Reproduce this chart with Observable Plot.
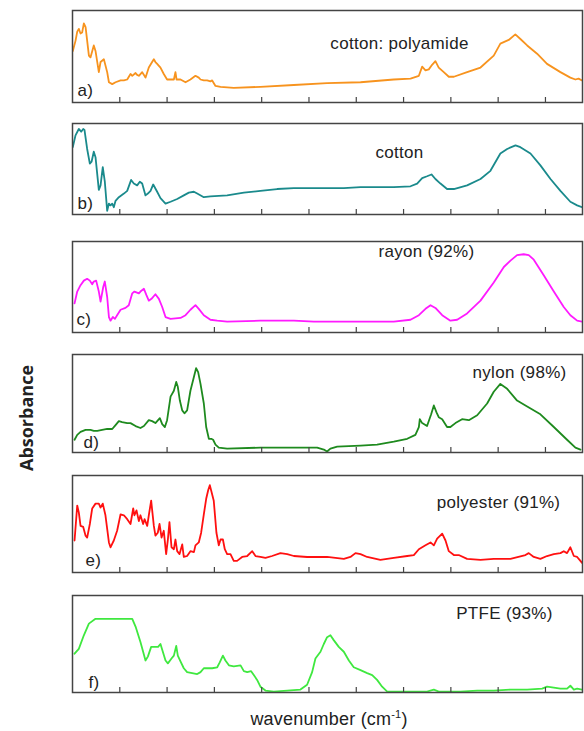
<!DOCTYPE html>
<html>
<head>
<meta charset="utf-8">
<script src="https://cdn.jsdelivr.net/npm/d3@7"></script>
<script src="https://cdn.jsdelivr.net/npm/@observablehq/plot@0.6"></script>
<style>
  html, body { margin: 0; padding: 0; background: #fff; }
  #chart { position: relative; width: 584px; height: 731px; font-family: "Liberation Sans", Arial, sans-serif; }
  .panel { position: absolute; left: 0; }
  #ylab { position: absolute; left: 26px; top: 418px; transform: translate(-50%, -50%) rotate(-90deg); font-family: "Open Sans", sans-serif; font-weight: 700; font-size: 18px; color: #222; white-space: nowrap; }
  #xlab { position: absolute; left: 329px; top: 719px; transform: translate(-50%, -50%); font-size: 18px; letter-spacing: 0.2px; color: #222; white-space: nowrap; }
  #xlab sup { font-size: 11px; }
</style>
</head>
<body>
<div id="chart"></div>
<script>
// ---- data: wavenumber (cm^-1) and relative absorbance (0-100) ----
const names = ["cotton: polyamide", "cotton", "rayon (92%)", "nylon (98%)", "polyester (91%)", "PTFE (93%)"];
const letters = ["a)", "b)", "c)", "d)", "e)", "f)"];
const tickValues = [900, 1200, 1500, 1800, 2100, 2400, 2700, 3000, 3300, 3600];

const cottonPolyamide = [[602,56],[619,67],[630,77],[640,80],[651,75],[661,76],[672,86],[683,82],[704,51],[714,49],[735,62],[746,56],[767,33],[778,44],[799,47],[820,33],[831,22],[852,20],[873,22],[905,24],[926,24],[947,25],[968,31],[979,29],[1000,32],[1010,30],[1021,29],[1042,33],[1053,30],[1063,27],[1084,38],[1105,44],[1116,47],[1126,44],[1137,42],[1158,38],[1179,31],[1200,25],[1222,25],[1243,25],[1253,33],[1260,25],[1285,25],[1317,22],[1348,25],[1380,29],[1401,27],[1412,25],[1433,24],[1454,24],[1475,23],[1486,24],[1507,18],[1539,17],[1623,16],[1792,17],[2004,19],[2215,21],[2427,22],[2638,25],[2744,26],[2797,29],[2818,39],[2839,35],[2860,36],[2881,41],[2902,45],[2923,38],[2955,33],[2987,28],[3019,28],[3103,33],[3188,38],[3272,51],[3314,64],[3367,68],[3409,74],[3441,69],[3484,62],[3547,53],[3610,42],[3695,33],[3758,27],[3790,25],[3810,26],[3832,24]];

const cotton = [[602,74],[619,87],[640,94],[655,91],[668,94],[676,93],[693,72],[710,56],[721,58],[735,69],[746,63],[767,27],[778,32],[792,52],[805,36],[820,4],[831,12],[841,10],[852,12],[862,8],[873,15],[894,19],[926,23],[947,26],[972,38],[989,34],[1010,32],[1027,36],[1042,34],[1063,21],[1078,23],[1095,26],[1112,33],[1137,25],[1158,18],[1190,12],[1222,14],[1264,17],[1306,21],[1338,24],[1370,25],[1391,23],[1433,19],[1475,20],[1581,21],[1687,24],[1792,26],[1898,28],[2004,29],[2110,29],[2215,29],[2321,29],[2427,30],[2532,30],[2638,30],[2744,31],[2786,34],[2818,40],[2849,42],[2877,44],[2902,39],[2934,34],[2976,28],[3019,28],[3103,32],[3188,39],[3251,48],[3314,67],[3357,72],[3410,76],[3441,74],[3505,67],[3568,54],[3632,39],[3695,26],[3758,14],[3801,10],[3832,8]];

const rayon = [[613,32],[630,45],[651,52],[672,57],[693,59],[710,57],[725,53],[735,56],[750,57],[767,45],[778,34],[795,50],[805,56],[820,39],[831,17],[841,13],[856,17],[869,15],[883,19],[905,25],[936,27],[957,30],[979,43],[993,45],[1021,43],[1031,45],[1053,48],[1069,41],[1084,35],[1101,37],[1126,42],[1148,37],[1169,28],[1190,17],[1222,15],[1285,16],[1317,19],[1348,25],[1380,30],[1401,26],[1433,19],[1475,14],[1518,13],[1581,12],[1792,13],[2004,13],[2131,12],[2215,12],[2427,12],[2638,12],[2744,14],[2797,19],[2839,26],[2871,30],[2902,27],[2945,19],[2997,13],[3040,14],[3103,21],[3188,35],[3272,55],[3336,72],[3378,79],[3420,85],[3462,86],[3494,85],[3526,80],[3589,63],[3653,45],[3716,28],[3758,19],[3801,13],[3832,12]];

const nylon = [[613,13],[630,18],[651,21],[683,23],[714,23],[735,22],[757,22],[788,23],[820,24],[852,24],[873,28],[894,32],[915,31],[947,30],[968,30],[1000,27],[1031,25],[1053,27],[1084,33],[1105,32],[1126,30],[1154,35],[1169,29],[1186,26],[1200,33],[1222,57],[1243,63],[1258,72],[1268,67],[1281,53],[1296,43],[1310,40],[1327,43],[1348,63],[1370,77],[1384,86],[1397,82],[1412,70],[1433,50],[1448,26],[1465,14],[1480,14],[1492,13],[1507,8],[1528,5],[1581,4],[1792,5],[2004,5],[2152,5],[2194,3],[2215,1],[2236,4],[2279,6],[2427,7],[2532,8],[2638,11],[2723,14],[2775,18],[2797,26],[2803,34],[2818,30],[2849,27],[2875,39],[2892,48],[2909,41],[2923,36],[2945,34],[2976,26],[2997,26],[3029,30],[3071,34],[3114,33],[3167,38],[3230,50],[3272,62],[3314,70],[3357,65],[3420,53],[3484,47],[3568,39],[3653,26],[3737,13],[3790,5],[3822,3]];

const polyester = [[613,33],[630,69],[640,62],[651,48],[668,47],[683,38],[693,36],[710,50],[725,66],[746,71],[767,71],[778,67],[792,71],[809,59],[831,31],[841,26],[862,33],[883,43],[905,60],[926,59],[947,55],[968,50],[985,66],[993,59],[1006,64],[1021,53],[1031,59],[1048,50],[1057,55],[1074,48],[1084,59],[1099,74],[1116,48],[1126,38],[1141,41],[1152,50],[1165,36],[1179,43],[1194,19],[1205,34],[1215,52],[1228,26],[1243,24],[1253,34],[1264,22],[1279,19],[1296,29],[1306,16],[1327,17],[1348,22],[1370,21],[1380,28],[1401,31],[1416,41],[1433,60],[1448,76],[1461,85],[1471,90],[1482,83],[1496,74],[1513,41],[1528,28],[1539,34],[1554,34],[1566,24],[1581,19],[1602,19],[1623,12],[1644,12],[1676,16],[1708,17],[1740,22],[1761,17],[1792,16],[1824,15],[1866,17],[1919,20],[1962,19],[2004,17],[2088,16],[2215,16],[2321,14],[2363,16],[2395,20],[2427,19],[2469,16],[2553,13],[2638,15],[2723,17],[2765,18],[2797,24],[2839,28],[2871,31],[2892,28],[2913,35],[2945,40],[2966,33],[2987,22],[3019,18],[3050,18],[3103,14],[3188,13],[3272,14],[3378,14],[3473,18],[3494,20],[3526,16],[3568,14],[3610,17],[3653,19],[3695,20],[3716,22],[3737,20],[3758,26],[3780,17],[3801,16],[3832,10]];

const ptfe = [[613,40],[640,45],[672,59],[704,71],[746,76],[799,76],[841,76],[894,76],[947,76],[979,76],[1000,68],[1031,52],[1048,42],[1063,33],[1078,37],[1099,47],[1126,47],[1143,47],[1158,50],[1173,42],[1190,33],[1205,30],[1228,35],[1243,38],[1258,48],[1268,38],[1285,32],[1306,25],[1327,21],[1359,20],[1391,19],[1412,21],[1433,25],[1454,25],[1486,25],[1518,26],[1534,31],[1554,38],[1570,33],[1592,28],[1623,27],[1666,28],[1687,22],[1708,21],[1733,22],[1750,18],[1771,13],[1792,6],[1824,2],[1877,1],[1962,2],[2046,3],[2088,8],[2120,21],[2141,35],[2173,42],[2194,50],[2215,57],[2236,59],[2257,54],[2289,47],[2321,42],[2353,33],[2384,26],[2427,23],[2469,20],[2501,18],[2532,13],[2564,6],[2596,1],[2638,1],[2744,1],[2807,1],[2849,1],[2892,3],[2923,1],[2987,1],[3061,1],[3167,2],[3272,2],[3378,3],[3484,3],[3579,4],[3610,6],[3653,5],[3695,4],[3737,4],[3758,7],[3780,3],[3801,4],[3832,3]];

const series = [cottonPolyamide, cotton, rayon, nylon, polyester, ptfe];

// ---- layout & style (kept separate from data) ----
const colors = ["#f7931e", "#1a8a8c", "#ff1aff", "#1e8a1e", "#ff1010", "#3fe83f"];
const frameTops = [10, 123, 241, 354, 475, 595];
const frameHeights = [92, 91, 91, 98, 97, 97];
const nameOffsets = [[327, 33], [327, 29], [354, 10], [447, 18], [426, 27], [432, 18]];
const letterOffsets = [[5, 80], [5, 80], [4, 78], [11, 88], [13, 85], [16, 87]];
const mT = 2, mB = 2, mL = 72, mR = 2;
const tickLen = 5;

const chart = document.getElementById("chart");

series.forEach((pts, i) => {
  const rows = pts.map(([w, a]) => ({w, a}));
  const plot = Plot.plot({
    width: 584,
    height: frameHeights[i] + mT + mB,
    marginTop: mT, marginBottom: mB, marginLeft: mL, marginRight: mR,
    x: {domain: [600, 3835], axis: null},
    y: {domain: [0, 100], axis: null},
    style: {fontFamily: "Liberation Sans, Arial, sans-serif", background: "transparent", letterSpacing: "0.3px"},
    marks: [
      Plot.line(rows, {x: "w", y: "a", stroke: colors[i], strokeWidth: 1.8, curve: "linear", clip: true}),
      Plot.ruleX(tickValues, {x: d => d, insetTop: frameHeights[i] - tickLen, stroke: "#444", strokeWidth: 1.2}),
      Plot.frame({stroke: "#444", strokeWidth: 1.5}),
      Plot.text([names[i]], {frameAnchor: "top-left", dx: nameOffsets[i][0], dy: nameOffsets[i][1], text: d => d, textAnchor: "middle", lineAnchor: "middle", fontSize: 17, fill: "#222"}),
      Plot.text([letters[i]], {frameAnchor: "top-left", dx: letterOffsets[i][0], dy: letterOffsets[i][1], text: d => d, textAnchor: "start", lineAnchor: "middle", fontSize: 17, fill: "#222"})
    ]
  });
  const wrap = document.createElement("div");
  wrap.className = "panel";
  wrap.style.top = (frameTops[i] - mT) + "px";
  wrap.appendChild(plot);
  chart.appendChild(wrap);
});

const ylab = document.createElement("div");
ylab.id = "ylab";
ylab.textContent = "Absorbance";
chart.appendChild(ylab);

const xlab = document.createElement("div");
xlab.id = "xlab";
xlab.innerHTML = "wavenumber (cm<sup>-1</sup>)";
chart.appendChild(xlab);
</script>
</body>
</html>
